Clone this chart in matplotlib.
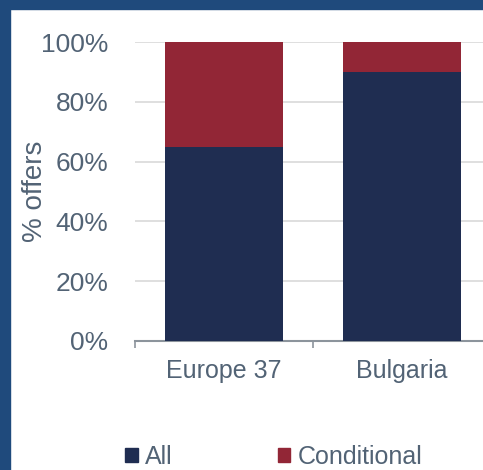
import numpy as np
import matplotlib
matplotlib.use("Agg")
import matplotlib.pyplot as plt
from matplotlib.patches import Rectangle, Patch

plt.rcParams['font.family'] = ['Liberation Sans', 'DejaVu Sans']

categories = ["Europe 37", "Bulgaria"]
share_all = [0.65, 0.90]
share_conditional = [0.35, 0.10]
series_names = ["All", "Conditional"]

NAVY = "#1F2D51"
RED = "#922636"
TEXT = "#526375"
FRAME = "#1F4A7C"

fig = plt.figure(figsize=(4.83, 4.70), dpi=100)
fig.patch.set_facecolor("white")
# blue frame on top and left edges
fig.patches.append(Rectangle((0, 0), 10 / 483, 1, transform=fig.transFigure, color=FRAME, zorder=0))
fig.patches.append(Rectangle((0, 1 - 9 / 470), 1, 9 / 470, transform=fig.transFigure, color=FRAME, zorder=0))

ax = fig.add_axes([135 / 483, 129 / 470, 356 / 483, 299 / 470])
x = np.arange(len(categories))
ax.bar(x, share_all, width=0.665, color=NAVY, zorder=3)
ax.bar(x, share_conditional, bottom=share_all, width=0.665, color=RED, zorder=3)

ax.set_xlim(-0.5, 1.5)
ax.set_ylim(0, 1)
ax.set_yticks(np.arange(0, 1.01, 0.2))
ax.set_yticklabels([f"{int(round(v * 100))}%" for v in np.arange(0, 1.01, 0.2)])
ax.yaxis.grid(True, color="#D9D9D9", linewidth=1.2, zorder=0)
ax.set_axisbelow(True)
ax.set_xticks(x)
ax.set_xticklabels(categories)
ax.set_xticks([-0.5, 0.5, 1.5], minor=True)
ax.tick_params(axis="x", which="major", length=0, pad=13, labelsize=18, labelcolor=TEXT)
ax.tick_params(axis="x", which="minor", length=5, width=1.2, color="#8C949C")
ax.tick_params(axis="y", length=0, pad=19, labelsize=19, labelcolor=TEXT)
for side in ["top", "right", "left"]:
    ax.spines[side].set_visible(False)
ax.spines["bottom"].set_color("#8C949C")
ax.spines["bottom"].set_linewidth(1.5)
ax.set_ylabel("% offers", fontsize=20, color=TEXT)
ax.yaxis.set_label_coords(-0.244, 0.5)

handles = [Patch(color=NAVY), Patch(color=RED)]
fig.legend(handles, series_names, loc="center", bbox_to_anchor=(274 / 483, 1 - 457 / 470),
           ncol=2, frameon=False, fontsize=18, labelcolor=TEXT, handlelength=0.5,
           handleheight=0.5, handletextpad=0.3, columnspacing=4.2)

fig.savefig("out.png", dpi=100, facecolor="white")
